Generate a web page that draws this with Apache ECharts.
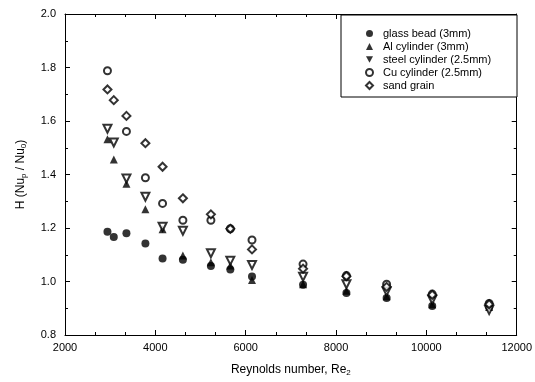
<!DOCTYPE html>
<html>
<head>
<meta charset="utf-8">
<title>H vs Reynolds number</title>
<script src="https://cdn.jsdelivr.net/npm/echarts@6/dist/echarts.min.js"></script>
<style>
  html, body { margin: 0; padding: 0; background: #fff; }
  #chart { width: 535px; height: 382px; }
</style>
</head>
<body>
<div id="chart"></div>
<script>
// Reynolds numbers shared by all series
const reynolds = [2940, 3080, 3360, 3780, 4160, 4610, 5230, 5660, 6140, 7270, 8230, 9120, 10130, 11390]

// H values (null = no point)
const glassBead = [1.186, 1.166, 1.18, 1.142, 1.086, 1.081, 1.058, 1.045, 1.019, 0.988, 0.957, 0.938, 0.908, 0.905]
const alCylinder = [1.532, 1.456, 1.365, 1.27, 1.195, 1.097, 1.072, 1.06, 1.006, 0.99, 0.965, 0.945, 0.915, 0.905]
const steelCylinder = [1.571, 1.52, 1.385, 1.317, 1.205, 1.19, 1.106, 1.078, 1.062, 1.018, 0.99, 0.963, 0.932, 0.893]
const cuCylinder = [1.788, null, 1.561, 1.388, 1.292, 1.229, 1.229, 1.197, 1.155, 1.065, 1.022, 0.99, 0.953, 0.918]
const sandGrain = [1.718, 1.678, 1.619, 1.517, 1.429, 1.311, 1.251, 1.197, 1.12, 1.048, 1.02, 0.98, 0.95, 0.915]

const seriesNames = ['glass bead (3mm)', 'Al cylinder (3mm)', 'steel cylinder (2.5mm)', 'Cu cylinder (2.5mm)', 'sand grain']

const xTicks = { min: 2000, max: 12000, step: 2000 }
const yTicks = { min: 0.8, max: 2.0, step: 0.2 }

const FONT = '"Liberation Sans", Arial, sans-serif'
const downTriangle = 'path://M0,0L10,0L5,9Z'

function toPoints(values) {
  const pts = []
  values.forEach((v, i) => {
    if (v !== null) pts.push([reynolds[i], v])
  })
  return pts
}

const chart = echarts.init(document.getElementById('chart'), null, { renderer: 'canvas' })

// common axis look: black frame, inside ticks, minor ticks
function frameAxis(extra) {
  return Object.assign({
    type: 'value',
    axisLine: { show: true, onZero: false, lineStyle: { color: '#000', width: 1 } },
    axisTick: { show: true, inside: true, length: 5, lineStyle: { color: '#000' } },
    minorTick: { show: true, length: 3, lineStyle: { color: '#000' } },
    splitLine: { show: false }
  }, extra)
}

const xBase = { min: xTicks.min, max: xTicks.max, interval: xTicks.step }
const yBase = { min: yTicks.min, max: yTicks.max, interval: yTicks.step }

const option = {
  backgroundColor: '#fff',
  animation: false,
  textStyle: { fontFamily: FONT, color: '#000' },
  grid: { left: 65, right: 17, top: 14, bottom: 45 },
  xAxis: [
    frameAxis(Object.assign({}, xBase, {
      position: 'bottom',
      minorTick: { show: true, splitNumber: 3, length: 3, lineStyle: { color: '#000' } },
      axisLabel: { margin: 7, fontSize: 11, color: '#000', fontFamily: FONT, formatter: v => String(v) },
      name: 'Reynolds number, Re{s|2}',
      nameLocation: 'middle',
      nameGap: 28,
      nameTextStyle: {
        fontSize: 12, color: '#000', fontFamily: FONT,
        rich: { s: { fontSize: 8, fontFamily: FONT, color: '#000', padding: [6, 0, 0, 0] } }
      }
    })),
    frameAxis(Object.assign({}, xBase, {
      position: 'top',
      minorTick: { show: true, splitNumber: 3, length: 3, lineStyle: { color: '#000' } },
      axisLabel: { show: false }
    }))
  ],
  yAxis: [
    frameAxis(Object.assign({}, yBase, {
      position: 'left',
      minorTick: { show: true, splitNumber: 2, length: 3, lineStyle: { color: '#000' } },
      axisLabel: {
        margin: 9, fontSize: 11, color: '#000', fontFamily: FONT,
        formatter: v => v.toFixed(1)
      },
      name: 'H (Nu{s|p} / Nu{s|0})',
      nameLocation: 'middle',
      nameGap: 37,
      nameRotate: 90,
      nameTextStyle: {
        fontSize: 12, color: '#000', fontFamily: FONT,
        rich: { s: { fontSize: 8, fontFamily: FONT, color: '#000', padding: [6, 0, 0, 0] } }
      }
    })),
    frameAxis(Object.assign({}, yBase, {
      position: 'right',
      minorTick: { show: true, splitNumber: 2, length: 3, lineStyle: { color: '#000' } },
      axisLabel: { show: false }
    }))
  ],
  // legend frame
  graphic: [{
    type: 'rect',
    shape: { x: 341, y: 15, width: 176, height: 82 },
    style: { fill: '#fff', stroke: '#000', lineWidth: 1 },
    z: 90
  }],
  legend: {
    orient: 'vertical',
    left: 360,
    top: 23,
    itemWidth: 7,
    itemHeight: 7,
    itemGap: 2,
    z: 100,
    textStyle: { fontSize: 11, color: '#000', fontFamily: FONT, padding: [0, 0, 0, 5] },
    data: [
      { name: seriesNames[0], icon: 'circle', itemStyle: { color: '#000' } },
      { name: seriesNames[1], icon: 'triangle', itemStyle: { color: '#000' } },
      { name: seriesNames[2], icon: downTriangle, itemStyle: { color: '#000', borderWidth: 0 } },
      { name: seriesNames[3], icon: 'emptyCircle', itemStyle: { color: '#000', borderWidth: 1 } },
      { name: seriesNames[4], icon: 'emptyDiamond', itemStyle: { color: '#000', borderWidth: 2 } }
    ]
  },
  series: [
    {
      name: seriesNames[0], type: 'scatter', symbol: 'circle', symbolSize: 8,
      itemStyle: { color: '#000' }, data: toPoints(glassBead), z: 3
    },
    {
      name: seriesNames[1], type: 'scatter', symbol: 'triangle', symbolSize: 8,
      itemStyle: { color: '#000' }, data: toPoints(alCylinder), z: 4
    },
    {
      name: seriesNames[2], type: 'scatter', symbol: downTriangle, symbolSize: 8,
      itemStyle: { color: '#fff', borderColor: '#000', borderWidth: 2 }, data: toPoints(steelCylinder), z: 5
    },
    {
      name: seriesNames[3], type: 'scatter', symbol: 'emptyCircle', symbolSize: 7,
      itemStyle: { color: '#000', borderWidth: 1.2 }, data: toPoints(cuCylinder), z: 6
    },
    {
      name: seriesNames[4], type: 'scatter', symbol: 'emptyDiamond', symbolSize: 8,
      itemStyle: { color: '#000', borderWidth: 2 }, data: toPoints(sandGrain), z: 7
    }
  ]
}

chart.setOption(option)
</script>
</body>
</html>
